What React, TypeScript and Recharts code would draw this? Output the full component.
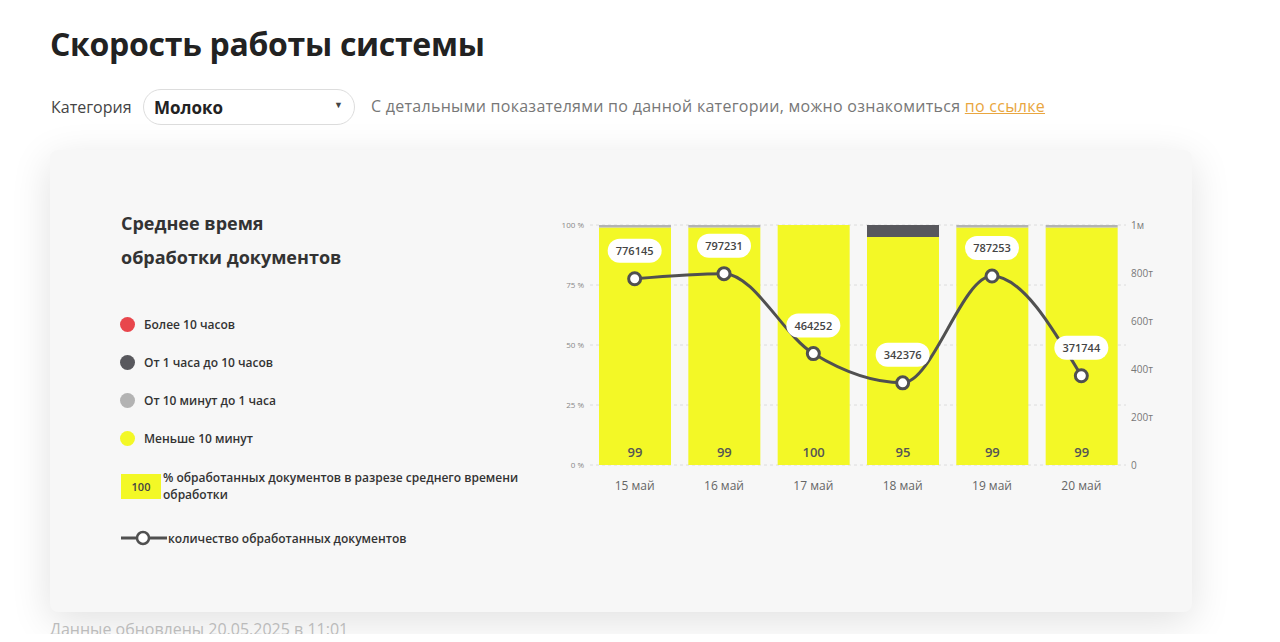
import React from 'react';
import { ComposedChart, Bar, Line, XAxis, YAxis, CartesianGrid, LabelList } from 'recharts';

const days = ['15 май', '16 май', '17 май', '18 май', '19 май', '20 май'];
const under10min = [99, 99, 100, 95, 99, 99];
const min10to1h = [1, 1, 0, 0, 1, 1];
const h1to10h = [0, 0, 0, 5, 0, 0];
const over10h = [0, 0, 0, 0, 0, 0];
const docsCount = [776145, 797231, 464252, 342376, 787253, 371744];
const pctTicks = [0, 25, 50, 75, 100];
const countTicks = [0, 200000, 400000, 600000, 800000, 1000000];

const YELLOW = '#f3f826';
const LIGHT_GRAY = '#b3b3b3';
const DARK_GRAY = '#58585d';
const RED = '#e8464c';
const LINE = '#505050';
const FONT = '"Open Sans", "Noto Sans", sans-serif';

const data = days.map((d, i) => ({
  day: d,
  fast: under10min[i],
  mid: min10to1h[i],
  slow: h1to10h[i],
  late: over10h[i],
  count: docsCount[i],
}));

const formatCount = (v: number) => {
  if (v === 0) return '0';
  if (v >= 1000000) return `${v / 1000000}м`;
  return `${v / 1000}т`;
};

const PillLabel = (props: any) => {
  const { x, y, value } = props;
  const w = 54;
  const h = 24;
  const cy = y - 28;
  return (
    <g>
      <rect x={x - w / 2} y={cy - h / 2} width={w} height={h} rx={12} ry={12} fill="#fff" />
      <text x={x} y={cy + 4} textAnchor="middle" fontSize={11} fontWeight={600} fill="#444" fontFamily={FONT}>
        {value}
      </text>
    </g>
  );
};

const legendItems = [
  { color: RED, label: 'Более 10 часов' },
  { color: DARK_GRAY, label: 'От 1 часа до 10 часов' },
  { color: LIGHT_GRAY, label: 'От 10 минут до 1 часа' },
  { color: YELLOW, label: 'Меньше 10 минут' },
];

export default function App() {
  return (
    <div style={{ position: 'relative', width: 1280, height: 642, margin: -8, background: '#fff', overflow: 'hidden', fontFamily: FONT }}>
      <div style={{ position: 'absolute', left: 50, top: 22, fontSize: 32, fontWeight: 700, color: '#222', letterSpacing: -0.3 }}>
        Скорость работы системы
      </div>

      <div style={{ position: 'absolute', left: 51, top: 96, fontSize: 16, color: '#444' }}>Категория</div>
      <div
        style={{
          position: 'absolute',
          left: 143,
          top: 89,
          width: 212,
          height: 36,
          borderRadius: 18,
          border: '1px solid #ddd',
          background: '#fff',
          boxSizing: 'border-box',
        }}
      >
        <span style={{ position: 'absolute', left: 10, top: 6, fontSize: 17, fontWeight: 700, color: '#222' }}>Молоко</span>
        <span style={{ position: 'absolute', left: 190, top: 8, fontSize: 9, color: '#444' }}>▼</span>
      </div>
      <div style={{ position: 'absolute', left: 371, top: 95, fontSize: 16, color: '#777', letterSpacing: 0.28 }}>
        С детальными показателями по данной категории, можно ознакомиться{' '}
        <span style={{ color: '#e9a640', textDecoration: 'underline' }}>по ссылке</span>
      </div>

      <div
        style={{
          position: 'absolute',
          left: 50,
          top: 150,
          width: 1142,
          height: 462,
          background: '#f7f7f7',
          borderRadius: 8,
          boxShadow: '0 10px 40px rgba(0,0,0,0.12)',
        }}
      />

      <div style={{ position: 'absolute', left: 121, top: 206, fontSize: 18, fontWeight: 700, color: '#333', lineHeight: '34px' }}>
        Среднее время
        <br />
        обработки документов
      </div>

      {legendItems.map((it, i) => (
        <div key={it.label} style={{ position: 'absolute', left: 120, top: 316 + i * 38, display: 'flex', alignItems: 'center' }}>
          <span style={{ width: 15, height: 15, borderRadius: '50%', background: it.color, display: 'inline-block' }} />
          <span style={{ marginLeft: 9, fontSize: 12, fontWeight: 600, color: '#333' }}>{it.label}</span>
        </div>
      ))}

      <div
        style={{
          position: 'absolute',
          left: 121,
          top: 474,
          width: 40,
          height: 25,
          background: YELLOW,
          fontSize: 11,
          fontWeight: 600,
          color: '#444',
          textAlign: 'center',
          lineHeight: '25px',
        }}
      >
        100
      </div>
      <div style={{ position: 'absolute', left: 163, top: 469, fontSize: 12, fontWeight: 600, color: '#333', lineHeight: '17px', width: 360 }}>
        % обработанных документов в разрезе среднего времени
        <br />
        обработки
      </div>

      <svg style={{ position: 'absolute', left: 119, top: 529 }} width={50} height={18}>
        <line x1={2} y1={9} x2={48} y2={9} stroke={LINE} strokeWidth={3} />
        <circle cx={24} cy={9} r={6} fill="#fff" stroke={LINE} strokeWidth={2.5} />
      </svg>
      <div style={{ position: 'absolute', left: 168, top: 530, fontSize: 12, fontWeight: 600, color: '#333' }}>
        количество обработанных документов
      </div>

      <div style={{ position: 'absolute', left: 540, top: 210 }}>
        <ComposedChart width={630} height={290} data={data} margin={{ top: 15, right: 4, bottom: 5, left: 10 }} barCategoryGap={17}>
          <CartesianGrid vertical={false} stroke="#dcdcdc" strokeDasharray="3 3" yAxisId="pct" />
          <XAxis
            dataKey="day"
            axisLine={false}
            tickLine={false}
            tickSize={0}
            tickMargin={16}
            tick={{ fontSize: 12, fill: '#666', fontFamily: FONT }}
          />
          <YAxis
            yAxisId="pct"
            domain={[0, 100]}
            ticks={pctTicks}
            width={40}
            axisLine={false}
            tickLine={false}
            tickSize={0}
            tickMargin={6}
            tickFormatter={(v: number) => `${v}\u00a0%`}
            tick={{ fontSize: 8, fill: '#888', fontFamily: FONT }}
          />
          <YAxis
            yAxisId="cnt"
            orientation="right"
            domain={[0, 1000000]}
            ticks={countTicks}
            width={40}
            axisLine={false}
            tickLine={false}
            tickSize={0}
            tickMargin={5}
            tickFormatter={formatCount}
            tick={{ fontSize: 10, fill: '#777', fontFamily: FONT }}
          />
          <Bar yAxisId="pct" dataKey="fast" stackId="s" fill={YELLOW} barSize={72} isAnimationActive={false}>
            <LabelList
              dataKey="fast"
              position="insideBottom"
              offset={8}
              style={{ fontSize: 13, fontWeight: 600, fill: '#555', fontFamily: FONT }}
            />
          </Bar>
          <Bar yAxisId="pct" dataKey="mid" stackId="s" fill={LIGHT_GRAY} barSize={72} isAnimationActive={false} />
          <Bar yAxisId="pct" dataKey="slow" stackId="s" fill={DARK_GRAY} barSize={72} isAnimationActive={false} />
          <Bar yAxisId="pct" dataKey="late" stackId="s" fill={RED} barSize={72} isAnimationActive={false} />
          <Line
            yAxisId="cnt"
            type="monotone"
            dataKey="count"
            stroke={LINE}
            strokeWidth={3}
            dot={{ r: 6, fill: '#fff', stroke: LINE, strokeWidth: 3 }}
            activeDot={false}
            isAnimationActive={false}
          >
            <LabelList dataKey="count" content={PillLabel} />
          </Line>
        </ComposedChart>
      </div>

      <div style={{ position: 'absolute', left: 50, top: 618, fontSize: 16, color: '#bbb' }}>Данные обновлены 20.05.2025 в 11:01</div>
    </div>
  );
}
